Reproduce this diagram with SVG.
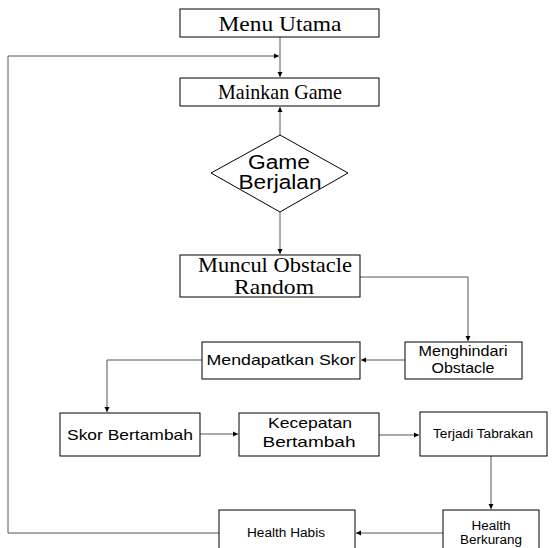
<svg xmlns="http://www.w3.org/2000/svg" width="560" height="548" viewBox="0 0 560 548">
<style>
.box{fill:#fff;stroke:#000;stroke-width:1}
.serif{font-family:"Liberation Serif",serif;font-size:21px;fill:#000;text-anchor:middle}
.sans{font-family:"Liberation Sans",Arial,sans-serif;fill:#000;text-anchor:middle}
.c{fill:none;stroke:#555;stroke-width:1}
</style>
<defs>
<marker id="ah" markerWidth="6" markerHeight="6" refX="5" refY="3" orient="auto" markerUnits="userSpaceOnUse">
<path d="M0,0.5 L5,3 L0,5.5 Z" fill="#000"/>
</marker>
</defs>
<rect width="560" height="548" fill="#fff"/>
<g id="connectors">
<path class="c" d="M280,37 V77" marker-end="url(#ah)"/>
<path class="c" d="M8,533 H219 M8,533 V56 H279" marker-end="url(#ah)"/>
<path class="c" d="M280,135 V107" marker-end="url(#ah)"/>
<path class="c" d="M280,212 V254" marker-end="url(#ah)"/>
<path class="c" d="M360,277 H468 V341" marker-end="url(#ah)"/>
<path class="c" d="M405,360 H361" marker-end="url(#ah)"/>
<path class="c" d="M202,360 H107 V412" marker-end="url(#ah)"/>
<path class="c" d="M200,434 H238" marker-end="url(#ah)"/>
<path class="c" d="M379,435 H419" marker-end="url(#ah)"/>
<path class="c" d="M491,456 V509" marker-end="url(#ah)"/>
<path class="c" d="M443,533 H356" marker-end="url(#ah)"/>
</g>
<g id="menu-utama">
<rect class="box" x="180" y="9" width="199" height="28"/>
<text class="serif" x="280" y="31" textLength="123" lengthAdjust="spacingAndGlyphs">Menu Utama</text>
</g>
<g id="mainkan-game">
<rect class="box" x="180" y="78" width="199" height="28"/>
<text class="serif" x="280" y="99" textLength="124" lengthAdjust="spacingAndGlyphs">Mainkan Game</text>
</g>
<g id="game-berjalan">
<polygon class="box" points="280,135 348,173 280,212 211,173"/>
<text class="sans" font-size="20" x="279" y="169" textLength="62" lengthAdjust="spacingAndGlyphs">Game</text>
<text class="sans" font-size="20" x="280" y="189" textLength="83" lengthAdjust="spacingAndGlyphs">Berjalan</text>
</g>
<g id="muncul-obstacle">
<rect class="box" x="180" y="255" width="180" height="42"/>
<text class="serif" font-size="17" x="275" y="272" textLength="154" lengthAdjust="spacingAndGlyphs">Muncul Obstacle</text>
<text class="serif" font-size="17" x="274" y="294" textLength="80" lengthAdjust="spacingAndGlyphs">Random</text>
</g>
<g id="menghindari-obstacle">
<rect class="box" x="405" y="342" width="117" height="37"/>
<text class="sans" font-size="15" x="463" y="356" textLength="89" lengthAdjust="spacingAndGlyphs">Menghindari</text>
<text class="sans" font-size="15" x="463" y="373" textLength="63" lengthAdjust="spacingAndGlyphs">Obstacle</text>
</g>
<g id="mendapatkan-skor">
<rect class="box" x="202" y="342" width="158" height="37"/>
<text class="sans" font-size="15" x="281" y="365" textLength="149" lengthAdjust="spacingAndGlyphs">Mendapatkan Skor</text>
</g>
<g id="skor-bertambah">
<rect class="box" x="60" y="413" width="140" height="43"/>
<text class="sans" font-size="15" x="130" y="440" textLength="126" lengthAdjust="spacingAndGlyphs">Skor Bertambah</text>
</g>
<g id="kecepatan-bertambah">
<rect class="box" x="239" y="413" width="140" height="43"/>
<text class="sans" font-size="15" x="310" y="428" textLength="84" lengthAdjust="spacingAndGlyphs">Kecepatan</text>
<text class="sans" font-size="15" x="309" y="447" textLength="93" lengthAdjust="spacingAndGlyphs">Bertambah</text>
</g>
<g id="terjadi-tabrakan">
<rect class="box" x="420" y="412" width="127" height="44"/>
<text class="sans" font-size="12" x="483" y="438" textLength="100" lengthAdjust="spacingAndGlyphs">Terjadi Tabrakan</text>
</g>
<g id="health-berkurang">
<rect class="box" x="443" y="510" width="96" height="45"/>
<text class="sans" font-size="12" x="491" y="530" textLength="39" lengthAdjust="spacingAndGlyphs">Health</text>
<text class="sans" font-size="12" x="491" y="544" textLength="62" lengthAdjust="spacingAndGlyphs">Berkurang</text>
</g>
<g id="health-habis">
<rect class="box" x="219" y="510" width="136" height="45"/>
<text class="sans" font-size="12" x="286" y="537" textLength="78" lengthAdjust="spacingAndGlyphs">Health Habis</text>
</g>
</svg>
